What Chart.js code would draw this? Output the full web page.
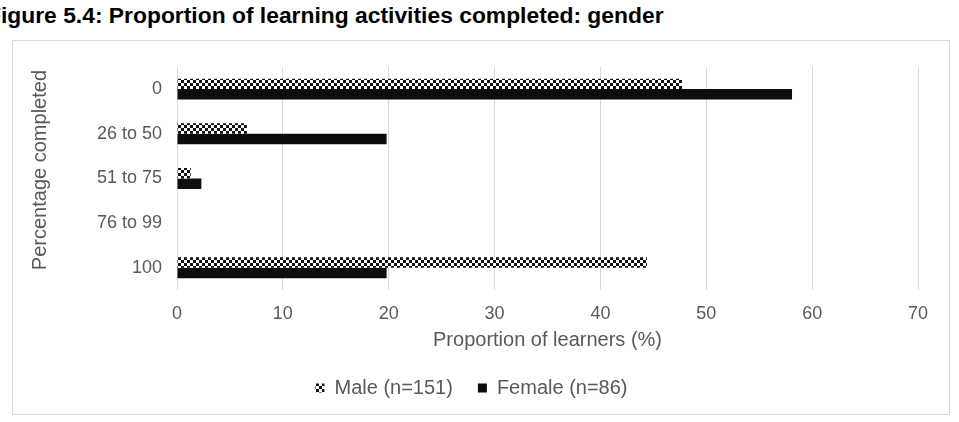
<!DOCTYPE html>
<html>
<head>
<meta charset="utf-8">
<script src="https://cdn.jsdelivr.net/npm/chart.js@4.4.1/dist/chart.umd.min.js"></script>
<style>
body { margin: 0; width: 959px; height: 422px; background: #fff; overflow: hidden; position: relative; font-family: "Liberation Sans", Arial, sans-serif; }
#title { position: absolute; left: -13px; top: 2px; font-weight: bold; font-size: 22.85px; line-height: 26px; color: #000; white-space: nowrap; }
#box { position: absolute; left: 12px; top: 40px; width: 936px; height: 373px; border: 1px solid #d9d9d9; }
#chart { display: block; }
</style>
</head>
<body>
<div id="title">Figure 5.4: Proportion of learning activities completed: gender</div>
<div id="box"><canvas id="chart" width="936" height="373"></canvas></div>
<script>
const categories = ['0', '26 to 50', '51 to 75', '76 to 99', '100'];
const seriesNames = ['Male (n=151)', 'Female (n=86)'];
const maleValues = [47.7, 6.6, 1.3, 0, 44.4];
const femaleValues = [58.1, 19.8, 2.3, 0, 19.8];
const xTickValues = [0, 10, 20, 30, 40, 50, 60, 70];

const grey = '#595959';
const fontFamily = '"Liberation Sans", Arial, sans-serif';

// checkered fill used by the Male bars
function checkPattern() {
    const c = document.createElement('canvas');
    c.width = 6;
    c.height = 6;
    const g = c.getContext('2d');
    g.fillStyle = '#111';
    g.fillRect(0, 0, 6, 6);
    g.fillStyle = '#fff';
    g.fillRect(0, 0, 3, 3);
    g.fillRect(3, 3, 3, 3);
    return g.createPattern(c, 'repeat');
}

const ctx = document.getElementById('chart').getContext('2d');
new Chart(ctx, {
    type: 'bar',
    data: {
        labels: categories,
        datasets: [
            {
                label: seriesNames[0],
                data: maleValues,
                backgroundColor: checkPattern(),
                borderWidth: 0,
                barPercentage: 1,
                categoryPercentage: 0.47
            },
            {
                label: seriesNames[1],
                data: femaleValues,
                backgroundColor: '#0d0d0d',
                borderWidth: 0,
                barPercentage: 1,
                categoryPercentage: 0.47
            }
        ]
    },
    options: {
        indexAxis: 'y',
        responsive: false,
        animation: false,
        layout: { padding: { top: 18, right: 31, bottom: 6, left: 12 } },
        plugins: {
            tooltip: { enabled: false },
            legend: {
                position: 'bottom',
                labels: {
                    boxWidth: 9,
                    boxHeight: 9,
                    padding: 25,
                    color: grey,
                    font: { family: fontFamily, size: 20 }
                }
            }
        },
        scales: {
            x: {
                min: 0,
                max: 70,
                afterBuildTicks: s => { s.ticks = xTickValues.map(v => ({ value: v })); },
                afterFit: s => { s.height = 63; },
                grid: { color: '#d9d9d9', lineWidth: 1, drawTicks: false },
                border: { display: false },
                ticks: {
                    padding: 13,
                    color: grey,
                    font: { family: fontFamily, size: 18 }
                },
                title: {
                    display: true,
                    text: 'Proportion of learners (%)',
                    color: grey,
                    padding: { top: 0, bottom: 1 },
                    font: { family: fontFamily, size: 20 }
                }
            },
            y: {
                afterFit: s => { s.width = 152; },
                grid: { display: false, drawTicks: false },
                border: { display: false },
                ticks: {
                    padding: 15,
                    color: grey,
                    font: { family: fontFamily, size: 18 }
                },
                title: {
                    display: true,
                    // leading spaces nudge the rotated title upward a little
                    text: '   Percentage completed',
                    color: grey,
                    padding: { top: 3, bottom: 0 },
                    font: { family: fontFamily, size: 20 }
                }
            }
        }
    }
});
</script>
</body>
</html>
